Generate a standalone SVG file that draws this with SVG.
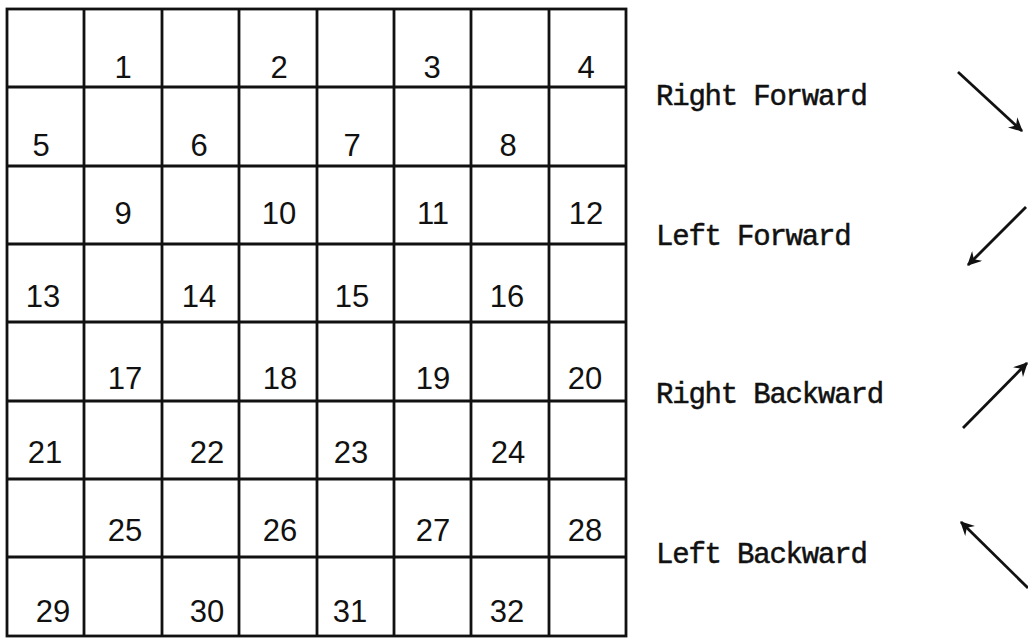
<svg xmlns="http://www.w3.org/2000/svg" width="1028" height="639" viewBox="0 0 1028 639">
<defs>
<style>
.grid{fill:none;stroke:#111;stroke-width:2.8}
.num{font-family:"Liberation Sans","DejaVu Sans",sans-serif;font-size:31px;fill:#111;text-anchor:middle}
.lbl{font-family:"Liberation Mono","DejaVu Sans Mono",monospace;font-size:29px;letter-spacing:-1.2px;fill:#111;stroke:#111;stroke-width:0.5}
.arr{stroke:#111;stroke-width:2.8;fill:none;marker-end:url(#ah)}
</style>
<marker id="ah" viewBox="0 0 12 12" refX="11" refY="6" markerWidth="5" markerHeight="5" orient="auto" markerUnits="strokeWidth">
<path d="M0,0 L12,6 L0,12 L4,6 Z" fill="#111"/>
</marker>
</defs>
<rect width="1028" height="639" fill="#fff"/>
<g id="grid">
<rect class="grid" x="7" y="9" width="619" height="627"/>
<path class="grid" d="M84,9V636M162,9V636M239,9V636M317,9V636M394,9V636M471,9V636M549,9V636M7,87H626M7,166H626M7,244H626M7,322H626M7,401H626M7,479H626M7,557H626"/>
</g>
<g id="numbers">
<text class="num" x="123" y="78">1</text><text class="num" x="279" y="78">2</text><text class="num" x="432" y="78">3</text><text class="num" x="586" y="78">4</text>
<text class="num" x="41" y="156">5</text><text class="num" x="199" y="156">6</text><text class="num" x="352" y="156">7</text><text class="num" x="508" y="156">8</text>
<text class="num" x="123" y="224">9</text><text class="num" x="279" y="224">10</text><text class="num" x="433" y="224">11</text><text class="num" x="586" y="224">12</text>
<text class="num" x="43" y="307">13</text><text class="num" x="199" y="307">14</text><text class="num" x="352" y="307">15</text><text class="num" x="507" y="307">16</text>
<text class="num" x="125" y="389">17</text><text class="num" x="280" y="389">18</text><text class="num" x="433" y="389">19</text><text class="num" x="585" y="389">20</text>
<text class="num" x="45" y="463">21</text><text class="num" x="207" y="463">22</text><text class="num" x="351" y="463">23</text><text class="num" x="508" y="463">24</text>
<text class="num" x="125" y="541">25</text><text class="num" x="280" y="541">26</text><text class="num" x="433" y="541">27</text><text class="num" x="585" y="541">28</text>
<text class="num" x="53" y="622">29</text><text class="num" x="207" y="622">30</text><text class="num" x="350" y="622">31</text><text class="num" x="507" y="622">32</text>
</g>
<g id="labels">
<text class="lbl" x="656" y="105">Right Forward</text>
<text class="lbl" x="656" y="245">Left Forward</text>
<text class="lbl" x="656" y="403">Right Backward</text>
<text class="lbl" x="656" y="563">Left Backward</text>
</g>
<g id="connectors">
<line class="arr" x1="958" y1="72" x2="1022" y2="131"/>
<line class="arr" x1="1026" y1="207" x2="968" y2="265"/>
<line class="arr" x1="963" y1="428" x2="1027" y2="363"/>
<line class="arr" x1="1028" y1="588" x2="961" y2="522"/>
</g>
</svg>
